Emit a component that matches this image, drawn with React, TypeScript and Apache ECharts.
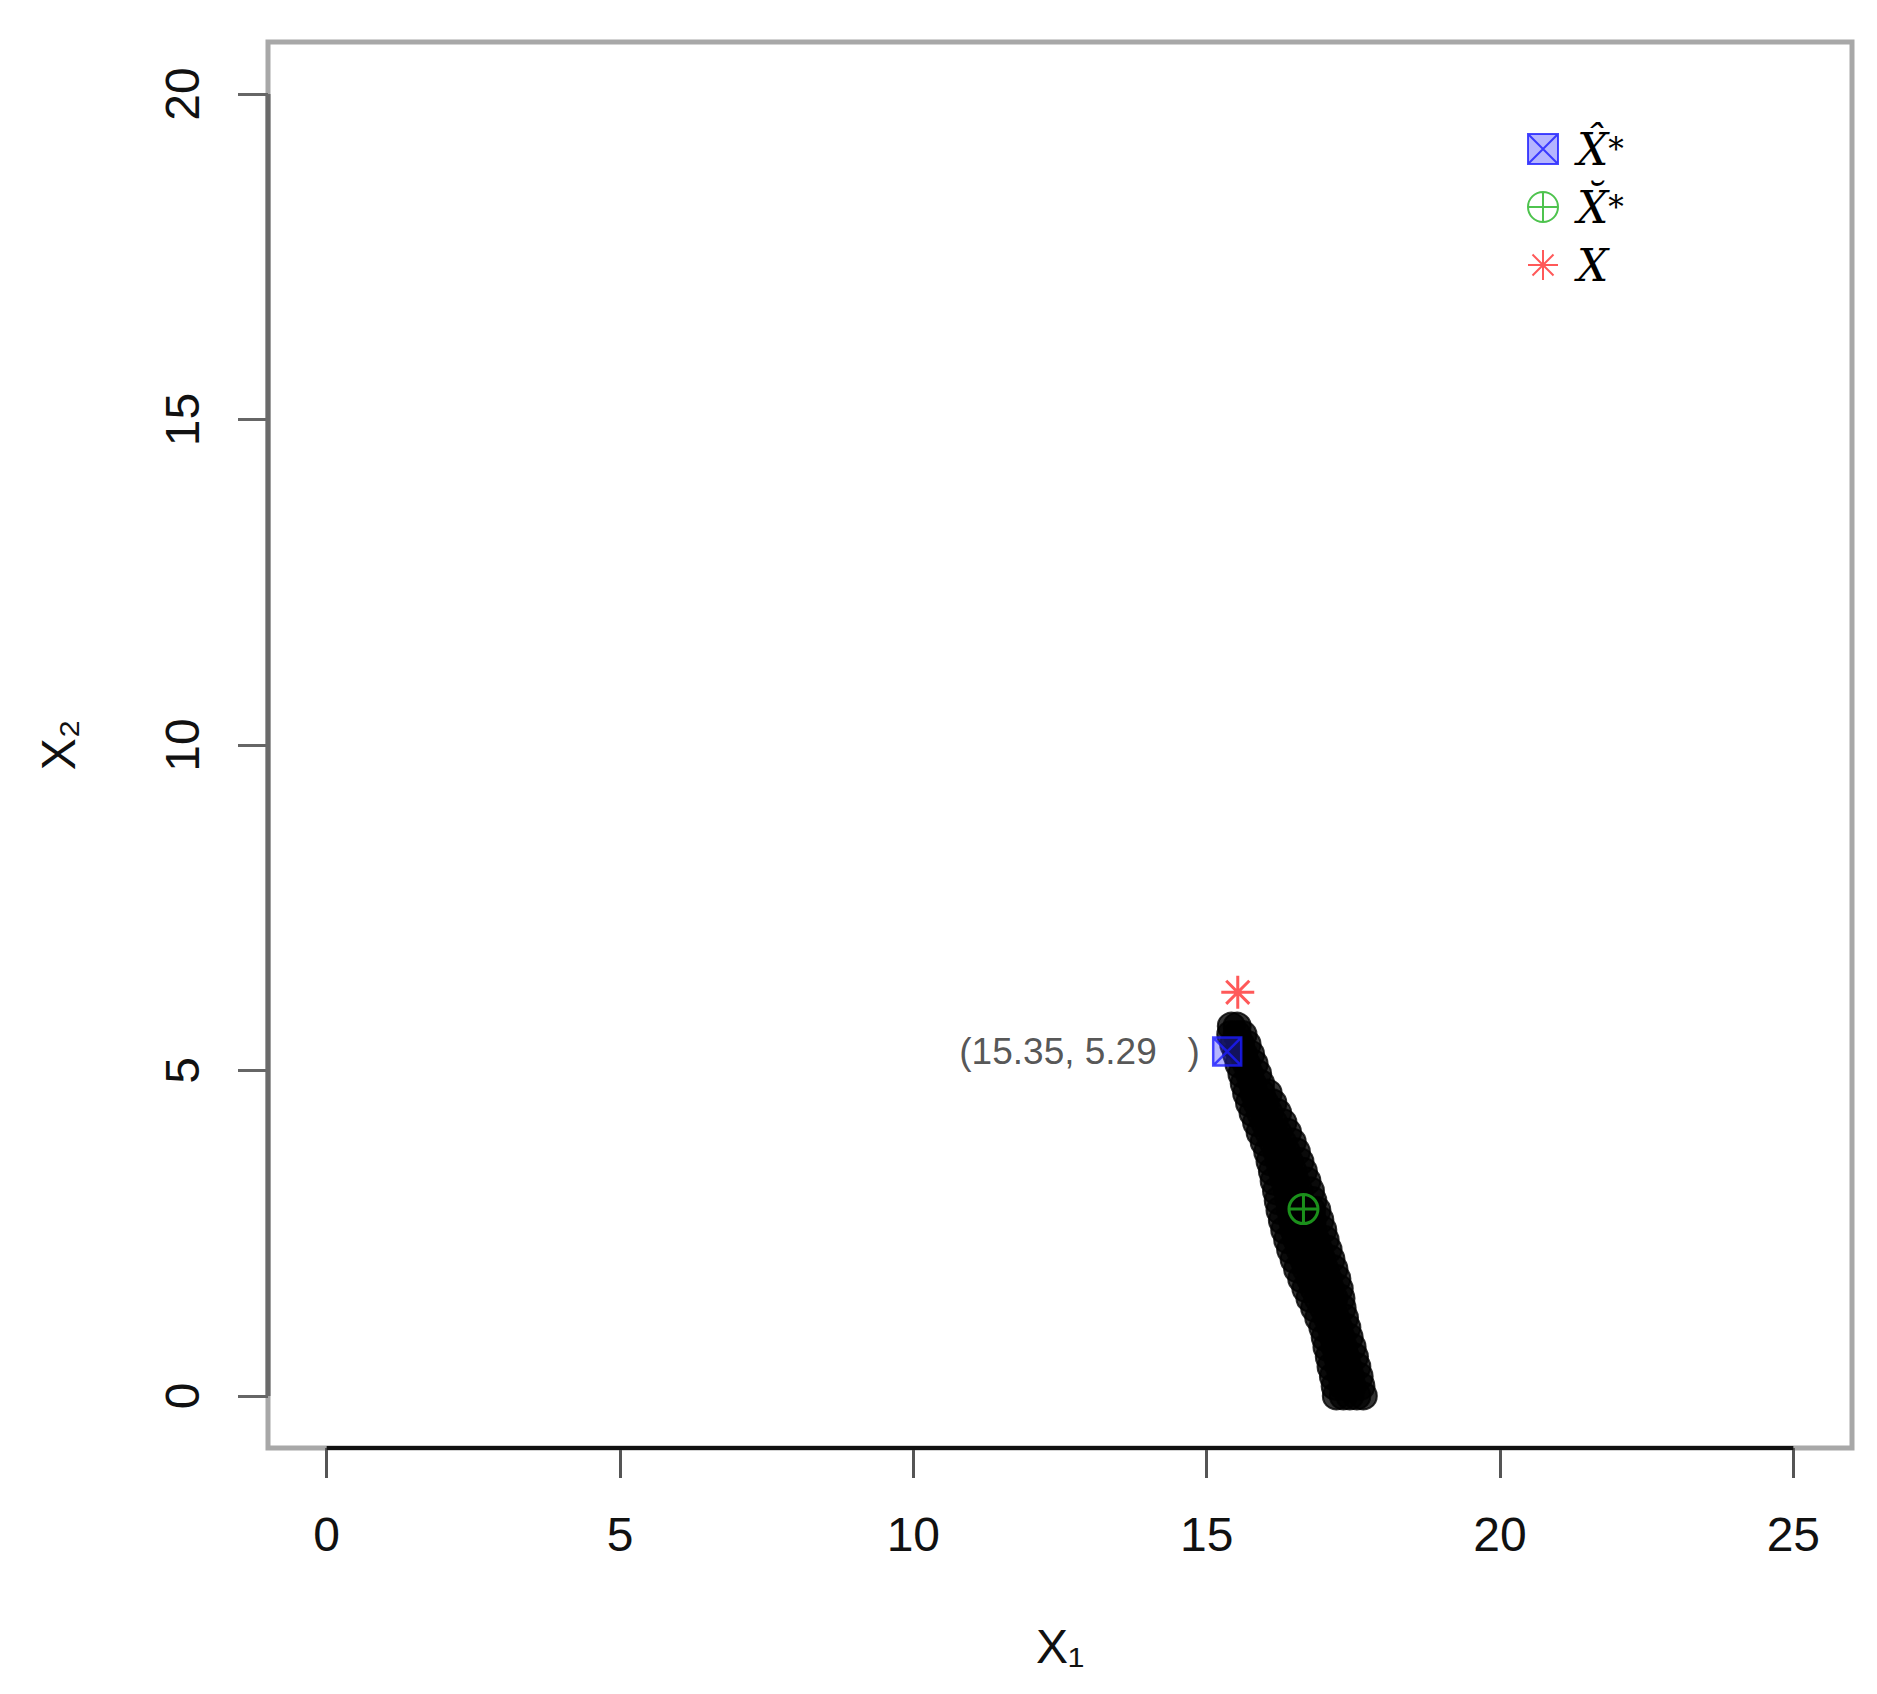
import React, { useEffect, useRef } from "react";
import * as echarts from "echarts";

// ---- axis setup ----
const xTicks = [0, 5, 10, 15, 20, 25];
const yTicks = [0, 5, 10, 15, 20];
const xRange = [-1, 26];
const yRange = [-0.8, 20.8];

// ---- highlighted points ----
const xHatStar = [15.35, 5.29]; // blue square (labelled)
const xBreveStar = [16.65, 2.87]; // green circle-plus
const xTrue = [15.53, 6.2]; // red star

const legendNames = ["X\u0302*", "X\u0306*", "X"];

// ---- cloud of solutions (x2 value, list of x1 values at that x2) ----
const cloudRows: [number, number[]][] = [
  [5.68, [15.42, 15.52]],
  [5.55, [15.41, 15.52, 15.62]],
  [5.4, [15.46, 15.58, 15.69]],
  [5.25, [15.51, 15.63, 15.75]],
  [5.1, [15.55, 15.68, 15.81]],
  [4.95, [15.6, 15.73, 15.87]],
  [4.8, [15.64, 15.78, 15.92]],
  [4.65, [15.68, 15.81, 15.93, 16.05]],
  [4.5, [15.73, 15.86, 15.99, 16.13]],
  [4.35, [15.79, 15.92, 16.06, 16.21]],
  [4.2, [15.85, 15.99, 16.14, 16.3]],
  [4.05, [15.91, 16.06, 16.21, 16.38]],
  [3.9, [15.98, 16.13, 16.29, 16.46]],
  [3.75, [16.04, 16.2, 16.36, 16.53]],
  [3.6, [16.08, 16.24, 16.41, 16.59]],
  [3.45, [16.12, 16.29, 16.47, 16.65]],
  [3.3, [16.15, 16.33, 16.51, 16.71]],
  [3.15, [16.19, 16.38, 16.57, 16.77]],
  [3.0, [16.22, 16.41, 16.6, 16.81]],
  [2.85, [16.25, 16.43, 16.61, 16.79, 16.88]],
  [2.7, [16.29, 16.46, 16.63, 16.8, 16.93]],
  [2.55, [16.33, 16.49, 16.65, 16.81, 16.98]],
  [2.4, [16.38, 16.54, 16.7, 16.86, 17.02]],
  [2.25, [16.43, 16.59, 16.75, 16.91, 17.07]],
  [2.1, [16.49, 16.65, 16.8, 16.96, 17.12]],
  [1.95, [16.55, 16.7, 16.85, 17.01, 17.17]],
  [1.8, [16.62, 16.77, 16.92, 17.07, 17.22]],
  [1.65, [16.69, 16.83, 16.97, 17.11, 17.26]],
  [1.5, [16.76, 16.9, 17.04, 17.17, 17.29]],
  [1.35, [16.84, 16.99, 17.14, 17.31]],
  [1.2, [16.91, 17.06, 17.2, 17.35]],
  [1.05, [16.98, 17.12, 17.25, 17.39]],
  [0.9, [17.02, 17.16, 17.29, 17.43]],
  [0.75, [17.05, 17.19, 17.33, 17.48]],
  [0.6, [17.09, 17.23, 17.37, 17.52]],
  [0.45, [17.12, 17.26, 17.41, 17.56]],
  [0.3, [17.16, 17.3, 17.45, 17.6]],
  [0.15, [17.19, 17.33, 17.48, 17.63]],
  [0.0, [17.21, 17.33, 17.44, 17.56, 17.67]],
];

const SANS = "'Liberation Sans', Arial, Helvetica, sans-serif";
const SERIF = "'DejaVu Serif', 'Liberation Serif', serif";

const squareX = "path://M0,0 L10,0 L10,10 L0,10 Z M0,0 L10,10 M10,0 L0,10";
const circlePlus =
  "path://M0,5 A5,5 0 1,0 10,5 A5,5 0 1,0 0,5 Z M5,0 L5,10 M0,5 L10,5";
const star8 =
  "path://M5,0 L5,10 M0,5 L10,5 M1.5,1.5 L8.5,8.5 M8.5,1.5 L1.5,8.5";

export default function App() {
  const ref = useRef<HTMLDivElement>(null);

  useEffect(() => {
    if (!ref.current) return;
    const chart = echarts.init(ref.current, undefined, { renderer: "svg" });

    const cloud: number[][] = [];
    cloudRows.forEach(([y, xs]) => xs.forEach((x) => cloud.push([x, y])));

    const richLegend = {
      x: { fontFamily: SERIF, fontStyle: "italic", fontSize: 44, color: "#000", lineHeight: 44 },
      s: { fontFamily: SERIF, fontSize: 31, color: "#000", lineHeight: 44 },
    };

    const option: any = {
      animation: false,
      backgroundColor: "#fff",
      grid: {
        left: 268,
        top: 42,
        width: 1584,
        height: 1406,
        show: true,
        borderColor: "#a8a8a8",
        borderWidth: 5,
        backgroundColor: "transparent",
      },
      legend: {
        orient: "vertical",
        left: 1522,
        top: 122,
        itemWidth: 30,
        itemHeight: 30,
        itemGap: 14,
        data: legendNames,
        formatter: (name: string) => {
          if (name === legendNames[2]) return "{x|X}";
          return "{x|" + name.slice(0, 2) + "}{s|*}";
        },
        textStyle: { color: "#000", padding: [0, 0, 0, 14], rich: richLegend },
      },
      xAxis: {
        type: "value",
        min: xRange[0],
        max: xRange[1],
        splitLine: { show: false },
        axisLine: { show: false, onZero: false },
        axisTick: {
          show: true,
          customValues: xTicks,
          length: 30,
          lineStyle: { color: "#555", width: 3 },
        },
        axisLabel: {
          customValues: xTicks,
          fontSize: 48,
          margin: 62,
          color: "#111",
          fontFamily: SANS,
        },
        name: "X\u2081",
        nameLocation: "middle",
        nameGap: 174,
        nameTextStyle: { fontSize: 48, color: "#111", fontFamily: SANS },
      },
      yAxis: {
        type: "value",
        min: yRange[0],
        max: yRange[1],
        splitLine: { show: false },
        axisLine: { show: false, onZero: false },
        axisTick: {
          show: true,
          customValues: yTicks,
          length: 30,
          lineStyle: { color: "#666", width: 3 },
        },
        axisLabel: {
          customValues: yTicks,
          rotate: 90,
          fontSize: 48,
          margin: 62,
          color: "#111",
          fontFamily: SANS,
        },
        name: "X\u2082",
        nameLocation: "middle",
        nameRotate: 90,
        nameGap: 186,
        nameTextStyle: { fontSize: 48, color: "#111", fontFamily: SANS },
      },
      series: [
        {
          name: "xaxisline",
          type: "line",
          data: [
            [xTicks[0], yRange[0]],
            [xTicks[xTicks.length - 1], yRange[0]],
          ],
          symbol: "none",
          clip: false,
          silent: true,
          lineStyle: { color: "#111", width: 4 },
          z: 5,
        },
        {
          name: "yaxisline",
          type: "line",
          data: [
            [xRange[0], yTicks[0]],
            [xRange[0], yTicks[yTicks.length - 1]],
          ],
          symbol: "none",
          clip: false,
          silent: true,
          lineStyle: { color: "#6a6a6a", width: 5 },
          z: 5,
        },
        {
          name: "cloud",
          type: "scatter",
          data: cloud,
          symbol: "circle",
          symbolSize: 27,
          itemStyle: { color: "#000", borderColor: "#000", borderWidth: 2 },
          z: 2,
        },
        {
          name: legendNames[0],
          type: "scatter",
          data: [xHatStar],
          symbol: squareX,
          symbolSize: 28,
          itemStyle: { color: "rgba(50,50,255,0.45)", borderColor: "#1c1cff", borderWidth: 2.5 },
          label: {
            show: true,
            position: "left",
            distance: 12,
            formatter: (p: any) => `(${p.value[0].toFixed(2)}, ${p.value[1].toFixed(2)}   )`,
            fontSize: 37,
            color: "#2a2a2a",
            fontFamily: SANS,
          },
          z: 4,
        },
        {
          name: legendNames[1],
          type: "scatter",
          data: [xBreveStar],
          symbol: circlePlus,
          symbolSize: 29,
          itemStyle: { color: "transparent", borderColor: "#22b422", borderWidth: 3 },
          z: 4,
        },
        {
          name: legendNames[2],
          type: "scatter",
          data: [xTrue],
          symbol: star8,
          symbolSize: 33,
          itemStyle: { color: "transparent", borderColor: "#ff3030", borderWidth: 3 },
          z: 4,
        },
      ],
    };

    chart.setOption(option);
    return () => chart.dispose();
  }, []);

  return (
    <div
      ref={ref}
      style={{ position: "fixed", left: 0, top: 0, width: 1877, height: 1694, background: "#fff" }}
    />
  );
}
